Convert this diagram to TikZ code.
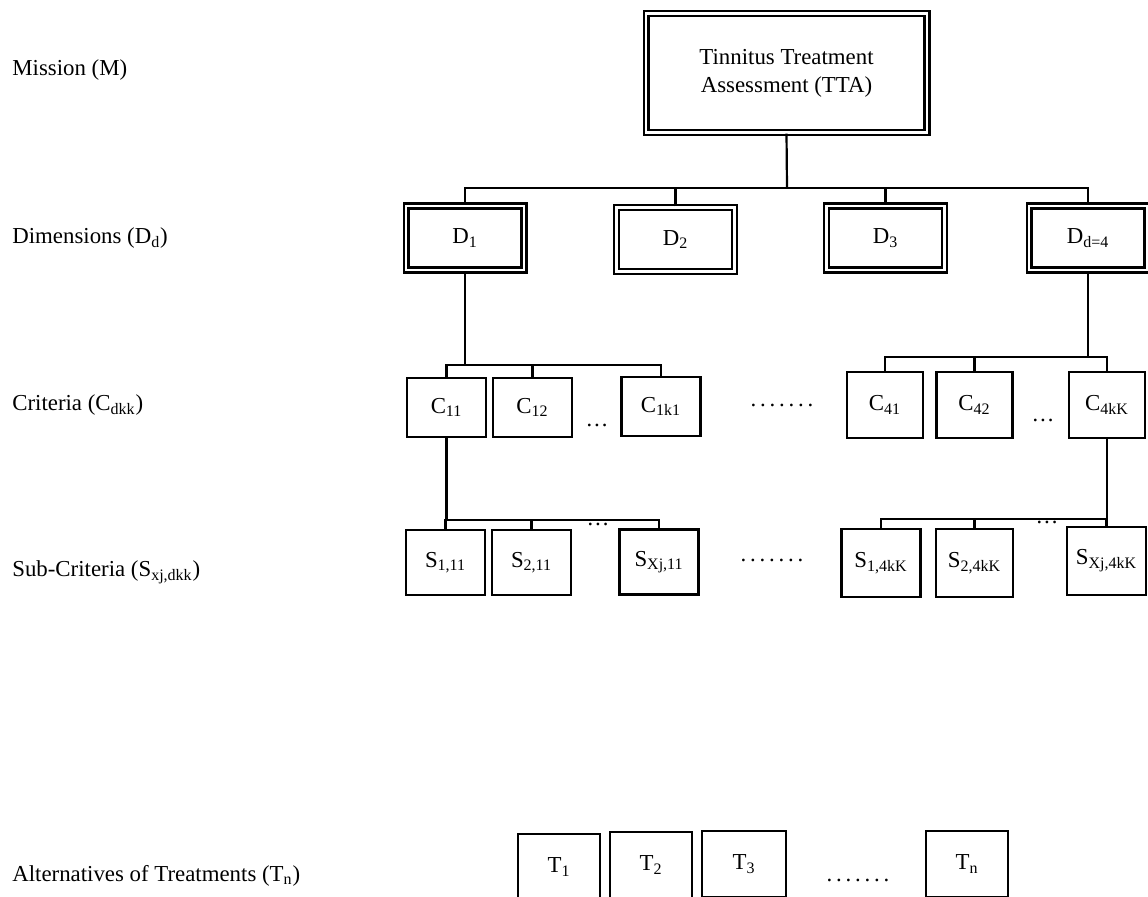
\documentclass[tikz,border=0pt]{standalone}
\usepackage{fontspec}
\setmainfont{Liberation Serif}
\begin{document}
\begin{tikzpicture}[x=0.02cm,y=-0.02cm,
  font=\fontsize{13}{16}\selectfont,
  dbox/.style={draw,line width=1.2pt,double=white,double distance=1.6pt,inner sep=0pt,align=center},
  sbox/.style={draw,line width=1.25pt,inner sep=0pt,align=center},
  cbox/.style={sbox,minimum width=1.58cm,minimum height=1.18cm},
  dimbox/.style={dbox,minimum width=2.36cm,minimum height=1.28cm},
  lbl/.style={anchor=west,inner sep=0pt},
  conn/.style={line width=1.25pt}]
\useasboundingbox (0,0) rectangle (1148,896);
% left labels
\node[lbl] (lm) at (12,70) {Mission (M)};
\node[lbl] (ld) at (12,238) {Dimensions (D\textsubscript{d})};
\node[lbl] (lc) at (12,405) {Criteria (C\textsubscript{dkk})};
\node[lbl] (ls) at (12,572) {Sub-Criteria (S\textsubscript{xj,dkk})};
\node[lbl] (lt) at (12,876) {Alternatives of Treatments (T\textsubscript{n})};
% mission
\node[dbox,minimum width=5.62cm,minimum height=2.38cm] (tta) at (786.5,73) {Tinnitus Treatment\\Assessment (TTA)};
% dimensions
\node[dimbox] (d1) at (465,238) {D\textsubscript{1}};
\node[dimbox] (d2) at (675.5,239.5) {D\textsubscript{2}};
\node[dimbox] (d3) at (885.5,238) {D\textsubscript{3}};
\node[dimbox] (d4) at (1088,238) {D\textsubscript{d=4}};
\coordinate (bus) at (787,188);
\draw[conn] (tta.south) -- (bus);
\draw[conn] (d1.north) |- (bus);
\draw[conn] (d2.north) |- (bus);
\draw[conn] (d3.north) |- (bus);
\draw[conn] (d4.north) |- (bus);
% criteria
\node[cbox] (c11) at (446.5,407.5) {C\textsubscript{11}};
\node[cbox] (c12) at (532.5,407.5) {C\textsubscript{12}};
\node[cbox] (c1k) at (661,406.5) {C\textsubscript{1k1}};
\node[cbox,minimum width=1.52cm,minimum height=1.32cm] (c41) at (885,405) {C\textsubscript{41}};
\node[cbox,minimum width=1.52cm,minimum height=1.32cm] (c42) at (974.5,405) {C\textsubscript{42}};
\node[cbox,minimum width=1.52cm,minimum height=1.32cm] (c4k) at (1107,405) {C\textsubscript{4kK}};
\node (e1) at (597,425) {\dots};
\node (e2) at (1043,420) {\dots};
\node (m1) at (782,405) {.\,.\,.\,.\,.\,.\,.};
\coordinate (cb1) at (465,365);
\coordinate (cb4) at (1088,357);
\draw[conn] (d1.south) -- (cb1);
\draw[conn] (c11.north) |- (cb1);
\draw[conn] (c12.north) |- (cb1);
\draw[conn] (c1k.north) |- (cb1);
\draw[conn] (d4.south) -- (cb4);
\draw[conn] (c41.north) |- (cb4);
\draw[conn] (c42.north) |- (cb4);
\draw[conn] (c4k.north) |- (cb4);
% sub-criteria
\node[sbox,minimum width=1.58cm,minimum height=1.30cm] (s1) at (445.5,562.5) {S\textsubscript{1,11}};
\node[sbox,minimum width=1.58cm,minimum height=1.30cm] (s2) at (531.5,562.5) {S\textsubscript{2,11}};
\node[sbox,minimum width=1.58cm,minimum height=1.30cm] (sx) at (659,562) {S\textsubscript{Xj,11}};
\node[sbox,minimum width=1.58cm,minimum height=1.36cm] (s41) at (881,563) {S\textsubscript{1,4kK}};
\node[sbox,minimum width=1.54cm,minimum height=1.36cm] (s42) at (974.5,563) {S\textsubscript{2,4kK}};
\node[sbox,minimum width=1.58cm,minimum height=1.36cm] (s4x) at (1106.5,561) {S\textsubscript{Xj,4kK}};
\node (e3) at (598,524) {\dots};
\node (e4) at (1047,522) {\dots};
\node (m2) at (772,560) {.\,.\,.\,.\,.\,.\,.};
\coordinate (sb1) at (446.5,520);
\coordinate (sb4) at (1107,519);
\draw[conn] (c11.south) -- (sb1);
\draw[conn] (s1.north) |- (sb1);
\draw[conn] (s2.north) |- (sb1);
\draw[conn] (sx.north) |- (sb1);
\draw[conn] (c4k.south) -- (sb4);
\draw[conn] (s41.north) |- (sb4);
\draw[conn] (s42.north) |- (sb4);
\draw[conn] (s4x.north) |- (sb4);
% treatments
\node[sbox,minimum width=1.64cm,minimum height=1.32cm] (t1) at (559,867) {T\textsubscript{1}};
\node[sbox,minimum width=1.64cm,minimum height=1.32cm] (t2) at (651,865) {T\textsubscript{2}};
\node[sbox,minimum width=1.68cm,minimum height=1.32cm] (t3) at (744,864) {T\textsubscript{3}};
\node[sbox,minimum width=1.64cm,minimum height=1.32cm] (tn) at (967,864) {T\textsubscript{n}};
\node (m3) at (858,880) {.\,.\,.\,.\,.\,.\,.};
\end{tikzpicture}
\end{document}
